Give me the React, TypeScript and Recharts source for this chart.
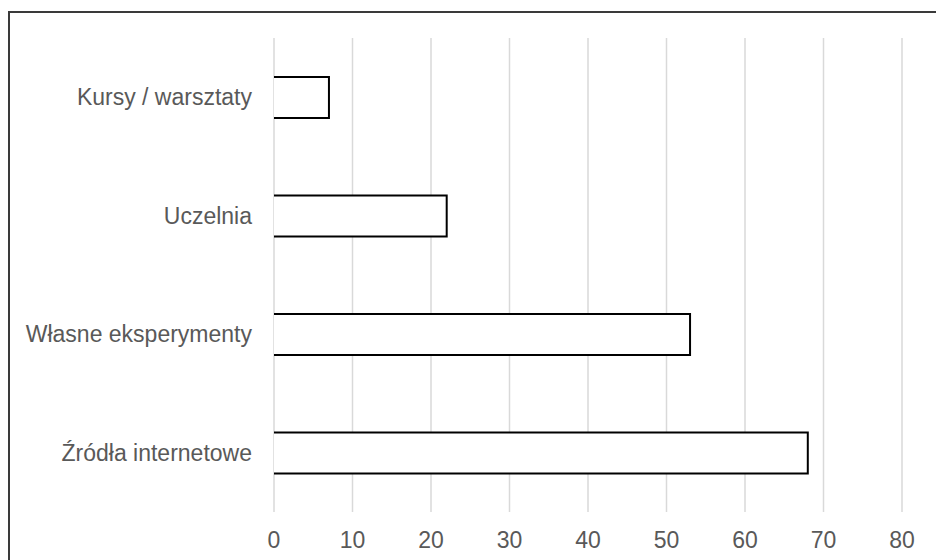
import * as React from 'react';
import { BarChart, Bar, XAxis, YAxis, CartesianGrid } from 'recharts';

const categories = ['Kursy / warsztaty', 'Uczelnia', 'Własne eksperymenty', 'Źródła internetowe'];
const counts = [7, 22, 53, 68];
const xTicks = [0, 10, 20, 30, 40, 50, 60, 70, 80];

const data = categories.map((name, i) => ({ name, value: counts[i] }));

const FONT = '"Liberation Sans", Arial, sans-serif';
const TEXT = '#595959';

// outlined bar: top, right and bottom edges only (left edge sits on the zero gridline)
const OpenBar = (props: any) => {
  const { x, y, width, height } = props;
  if (!width || width <= 0) return null;
  const d = `M${x},${y} H${x + width} V${y + height} H${x}`;
  return <path d={d} fill="#ffffff" stroke="#000000" strokeWidth={2} />;
};

export default function App() {
  return (
    <div
      style={{
        position: 'absolute',
        left: 8,
        top: 11,
        width: 928,
        height: 549,
        overflow: 'hidden',
        borderTop: '2px solid #3a3a3a',
        borderLeft: '2px solid #3a3a3a',
        boxSizing: 'border-box',
        background: '#fff',
      }}
    >
      <BarChart
        width={926}
        height={547}
        data={data}
        layout="vertical"
        margin={{ top: 25, right: 34, bottom: 8, left: 0 }}
        barSize={41}
      >
        <CartesianGrid horizontal={false} stroke="#d9d9d9" strokeWidth={1.5} />
        <XAxis
          type="number"
          domain={[0, 80]}
          ticks={xTicks}
          interval={0}
          axisLine={false}
          tickLine={false}
          tickSize={0}
          tickMargin={20}
          height={40}
          tick={{ fill: TEXT, fontSize: 23, fontFamily: FONT }}
        />
        <YAxis
          type="category"
          dataKey="name"
          width={264}
          axisLine={false}
          tickLine={false}
          tickSize={0}
          tickMargin={22}
          interval={0}
          tick={{ fill: TEXT, fontSize: 23, fontFamily: FONT }}
        />
        <Bar dataKey="value" shape={OpenBar} isAnimationActive={false} />
      </BarChart>
    </div>
  );
}
